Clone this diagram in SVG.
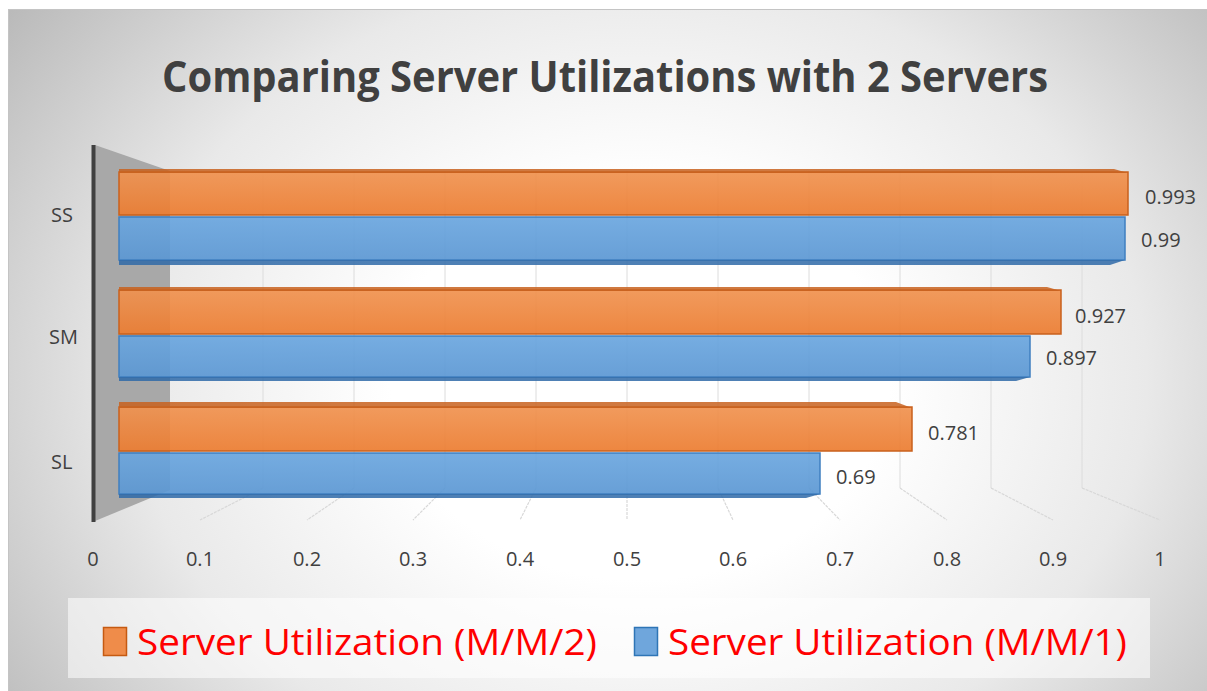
<svg xmlns="http://www.w3.org/2000/svg" width="1207" height="691" viewBox="0 0 1207 691">
<defs>
<radialGradient id="bg" gradientUnits="userSpaceOnUse" cx="640" cy="380" r="780" gradientTransform="translate(640 380) scale(1 0.8) translate(-640 -380)">
<stop offset="0" stop-color="#ffffff"/>
<stop offset="0.32" stop-color="#ffffff"/>
<stop offset="0.65" stop-color="#e9e9e9"/>
<stop offset="1" stop-color="#bababa"/>
</radialGradient>
<linearGradient id="og" x1="0" y1="0" x2="0" y2="1">
<stop offset="0" stop-color="#f0924f"/>
<stop offset="1" stop-color="#ec7c30"/>
</linearGradient>
<linearGradient id="bgr" x1="0" y1="0" x2="0" y2="1">
<stop offset="0" stop-color="#6aa6df"/>
<stop offset="1" stop-color="#5b97d3"/>
</linearGradient>
<style>
.t{font-family:"Open Sans","Liberation Sans",sans-serif;fill:#404040}
.lbl{font-size:20px}
.grid{stroke:#dcdcdc;stroke-width:1;fill:none}
.floor{stroke:#d8d8d8;stroke-width:1.2;fill:none;stroke-dasharray:3 1}
.ob{fill:url(#og);stroke:#c9601c;stroke-width:1.5;fill-opacity:0.92}
.otop{fill:#c8621f;opacity:0.85}
.bb{fill:url(#bgr);stroke:#3f7fc0;stroke-width:1.5;fill-opacity:0.92}
.bbot{fill:#2f6aa8;opacity:0.85}
.leg{font-family:"Open Sans","Liberation Sans",sans-serif;font-size:36px;fill:#ff0000}
</style>
</defs>
<rect x="0" y="0" width="1207" height="691" fill="#ffffff"/>
<rect x="8.5" y="9.5" width="1199" height="682" fill="url(#bg)" stroke="#c4c4c4" stroke-width="1"/>

<text class="t" x="605" y="92" text-anchor="middle" font-size="43" font-weight="bold" textLength="886" lengthAdjust="spacingAndGlyphs">Comparing Server Utilizations with 2 Servers</text>

<g id="wall">
<polygon points="95,145 170,171 170,490 95,521" fill="#a8a8a8"/>
<line x1="93.5" y1="145" x2="93.5" y2="522" stroke="#404040" stroke-width="4"/>
</g>

<g id="gridlines">
<path class="grid" d="M263,171V488 M354,171V488 M445,171V488 M536,171V488 M627,171V488 M718,171V488 M809,171V488 M900,171V488 M991,171V488 M1082,171V488"/>
<path class="floor" d="M263,488L200,520 M354,488L307,520 M445,488L413,520 M536,488L520,520 M627,488L627,520 M718,488L733,520 M809,488L840,520 M900,488L947,520 M991,488L1053,520 M1082,488L1160,520"/>
</g>

<g id="bar-ss-m2">
<rect class="ob" x="119" y="172" width="1009" height="43"/>
<polygon class="otop" points="119,169 1114,169 1128,173 119,173"/>
</g>
<g id="bar-ss-m1">
<rect class="bb" x="119" y="217" width="1006" height="43"/>
<polygon class="bbot" points="119,260 1125,260 1110,265 119,265"/>
</g>
<g id="bar-sm-m2">
<rect class="ob" x="119" y="290" width="942" height="44"/>
<polygon class="otop" points="119,287 1047,287 1061,291 119,291"/>
</g>
<g id="bar-sm-m1">
<rect class="bb" x="119" y="336" width="911" height="41"/>
<polygon class="bbot" points="119,377 1030,377 1016,381 119,381"/>
</g>
<g id="bar-sl-m2">
<rect class="ob" x="119" y="407" width="793" height="44"/>
<polygon class="otop" points="119,402 896,402 912,408 119,408"/>
</g>
<g id="bar-sl-m1">
<rect class="bb" x="119" y="453" width="701" height="41"/>
<polygon class="bbot" points="119,494 820,494 806,498 119,498"/>
</g>

<g id="value-labels" class="t lbl">
<text x="1145" y="204">0.993</text>
<text x="1141" y="247">0.99</text>
<text x="1075" y="323">0.927</text>
<text x="1046" y="365">0.897</text>
<text x="928" y="440">0.781</text>
<text x="836" y="484">0.69</text>
</g>

<g id="category-labels" class="t lbl">
<text x="51" y="222">SS</text>
<text x="49" y="344">SM</text>
<text x="51" y="469">SL</text>
</g>

<g id="axis-labels" class="t lbl" text-anchor="middle">
<text x="93" y="566">0</text>
<text x="200" y="566">0.1</text>
<text x="307" y="566">0.2</text>
<text x="413" y="566">0.3</text>
<text x="520" y="566">0.4</text>
<text x="627" y="566">0.5</text>
<text x="733" y="566">0.6</text>
<text x="840" y="566">0.7</text>
<text x="947" y="566">0.8</text>
<text x="1053" y="566">0.9</text>
<text x="1160" y="566">1</text>
</g>

<g id="legend">
<rect x="68" y="598" width="1082" height="80" fill="#ffffff" fill-opacity="0.55"/>
<rect x="103.5" y="627.5" width="23" height="28" fill="#ef8c4a" stroke="#c55a11" stroke-width="1.5"/>
<text class="leg" x="137" y="655" textLength="460" lengthAdjust="spacingAndGlyphs">Server Utilization (M/M/2)</text>
<rect x="634.5" y="627.5" width="23" height="28" fill="#6fa6dc" stroke="#2e75b6" stroke-width="1.5"/>
<text class="leg" x="668" y="655" textLength="459" lengthAdjust="spacingAndGlyphs">Server Utilization (M/M/1)</text>
</g>
</svg>
